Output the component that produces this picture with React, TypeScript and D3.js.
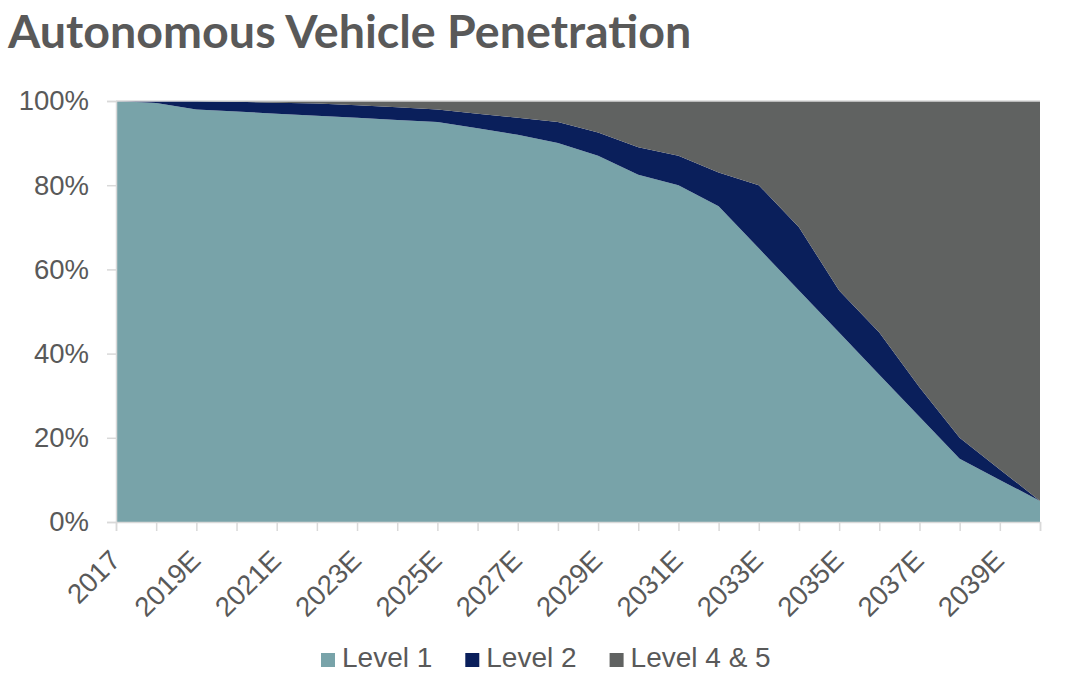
import React, { useRef, useEffect } from "react";
import * as d3 from "d3";

// years on the x axis (2017 actual, rest estimates)
const categories = [
  "2017", "2018E", "2019E", "2020E", "2021E", "2022E", "2023E", "2024E",
  "2025E", "2026E", "2027E", "2028E", "2029E", "2030E", "2031E", "2032E",
  "2033E", "2034E", "2035E", "2036E", "2037E", "2038E", "2039E", "2040E",
];

// share of vehicles, %
const level1 = [
  100, 99.5, 98, 97.5, 97, 96.5, 96, 95.5, 95, 93.5, 92, 90, 87, 82.5, 80, 75,
  65, 55, 45, 35, 25, 15, 10, 5,
];
const level2 = [
  0, 0.5, 2, 2.3, 2.6, 2.9, 3, 3, 3, 3.5, 4, 5, 5.5, 6.5, 7, 8, 15, 15, 10, 10,
  7, 5, 2.5, 0,
];
const level45 = [
  0, 0, 0, 0.2, 0.4, 0.6, 1, 1.5, 2, 3, 4, 5, 7.5, 11, 13, 17, 20, 30, 45, 55,
  68, 80, 87.5, 95,
];

const seriesNames = ["Level 1", "Level 2", "Level 4 & 5"];
const seriesColors = ["#78a3a9", "#0a1f5b", "#606261"];
const yTicks = [0, 20, 40, 60, 80, 100];

const title = "Autonomous Vehicle Penetration";

const W = 1085;
const H = 693;

export default function App() {
  const ref = useRef<SVGSVGElement | null>(null);

  useEffect(() => {
    if (!ref.current) return;
    const svg = d3.select(ref.current);
    svg.selectAll("*").remove();

    const margin = { top: 101, right: 45, bottom: 171, left: 116 };
    const x = d3
      .scalePoint<string>()
      .domain(categories)
      .range([margin.left, W - margin.right]);
    const y = d3
      .scaleLinear()
      .domain([0, 100])
      .range([H - margin.bottom, margin.top]);

    const rows = categories.map((c, i) => ({
      cat: c,
      l1: level1[i],
      l2: level2[i],
      l45: level45[i],
    }));
    const keys = ["l1", "l2", "l45"];
    const stacked = d3.stack<any>().keys(keys)(rows);

    const area = d3
      .area<any>()
      .x((d) => x(d.data.cat)!)
      .y0((d) => y(d[0]))
      .y1((d) => y(d[1]));

    const labelFont = "'Liberation Sans', Arial, sans-serif";
    const textColor = "#595959";
    const axisColor = "#d9d9d9";

    // title
    svg
      .append("text")
      .attr("x", 8)
      .attr("y", 48)
      .attr("font-family", "Lato, sans-serif")
      .attr("font-weight", 700)
      .attr("font-size", 46.6)
      .attr("fill", textColor)
      .text(title);

    // stacked areas
    svg
      .append("g")
      .selectAll("path")
      .data(stacked)
      .join("path")
      .attr("fill", (_, i) => seriesColors[i])
      .attr("d", area);

    // top gridline
    svg
      .append("line")
      .attr("x1", x.range()[0])
      .attr("x2", x.range()[1])
      .attr("y1", y(100))
      .attr("y2", y(100))
      .attr("stroke", axisColor)
      .attr("stroke-width", 1.5);

    // y axis
    const yAxis = svg
      .append("g")
      .attr("transform", `translate(${margin.left},0)`)
      .call(
        d3
          .axisLeft(y)
          .tickValues(yTicks)
          .tickSize(9)
          .tickPadding(18)
          .tickFormat((d) => `${d}%`)
      );
    yAxis.select(".domain").attr("stroke", axisColor).attr("stroke-width", 1.5);
    yAxis.selectAll(".tick line").attr("stroke", axisColor).attr("stroke-width", 1.5);
    yAxis
      .selectAll(".tick text")
      .attr("font-family", labelFont)
      .attr("font-size", 27.5)
      .attr("fill", textColor);

    // x axis
    const xAxis = svg
      .append("g")
      .attr("transform", `translate(0,${y(0)})`)
      .call(d3.axisBottom(x).tickSize(9).tickFormat(() => ""));
    xAxis.select(".domain").attr("stroke", axisColor).attr("stroke-width", 1.5);
    xAxis.selectAll(".tick line").attr("stroke", axisColor).attr("stroke-width", 1.5);

    svg
      .append("g")
      .selectAll("text")
      .data(categories.filter((_, i) => i % 2 === 0))
      .join("text")
      .attr(
        "transform",
        (d) => `translate(${x(d)! + 6},${y(0) + 40}) rotate(-45)`
      )
      .attr("text-anchor", "end")
      .attr("font-family", labelFont)
      .attr("font-size", 27.5)
      .attr("fill", textColor)
      .text((d) => d);

    // legend
    const legend = svg.append("g").attr("transform", `translate(321,0)`);
    let offset = 0;
    seriesNames.forEach((name, i) => {
      const g = legend.append("g").attr("transform", `translate(${offset},0)`);
      g.append("rect")
        .attr("x", 0)
        .attr("y", 653)
        .attr("width", 14)
        .attr("height", 14)
        .attr("fill", seriesColors[i]);
      const t = g
        .append("text")
        .attr("x", 21)
        .attr("y", 667)
        .attr("font-family", labelFont)
        .attr("font-size", 28)
        .attr("fill", textColor)
        .text(name);
      const len = (t.node() as SVGTextElement).getComputedTextLength();
      offset += 21 + len + 33;
    });
  }, []);

  return (
    <svg
      ref={ref}
      width={W}
      height={H}
      style={{ position: "absolute", left: 0, top: 0, background: "#fff" }}
    />
  );
}
